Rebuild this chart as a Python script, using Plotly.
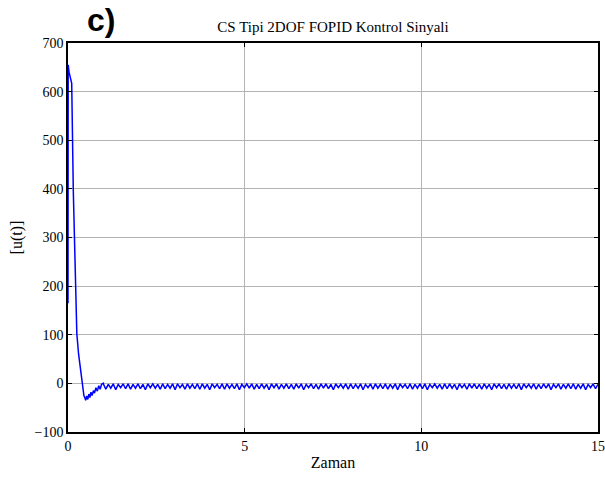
import numpy as np
import plotly.graph_objects as go

# Transient part of the control signal
t_transient = [0.0, 0.005, 0.03, 0.105, 0.15, 0.19, 0.25, 0.30, 0.36, 0.42, 0.45, 0.48, 0.50, 0.53, 0.56,
               0.59, 0.62, 0.65, 0.68, 0.72, 0.75, 0.79, 0.83, 0.87, 0.91, 0.95, 1.0]
u_transient = [165, 655, 640, 617, 396, 293, 102, 60, 26, -15, -25, -30, -35, -26, -33,
               -22, -29, -18, -25, -15, -20, -9, -16, -5, -12, -2, 0]

# Steady-state ripple (tooth tops and bottoms), t from 1.0 to 15, ~0.14 period
ripple_top = [-1, -2, -1, -2, -1, -1, -2, -1, -2, -1, -1, -2, -1, -2, -1, -1, -2, -1, -2, -1,
              -1, -2, -1, -2, -1, -1, -2, -1, -2, -1, -1, -2, -1, -2, -1, -1, -2, -1, -2, -1,
              -1, -2, -1, -2, -1, -1, -2, -1, -2, -1, -1, -2, -1, -2, -1, -1, -2, -1, -2, -1,
              -1, -2, -1, -2, -1, -1, -2, -1, -2, -1, -1, -2, -1, -2, -1, -1, -2, -1, -2, -1,
              -1, -2, -1, -2, -1, -1, -2, -1, -2, -1, -1, -2, -1, -2, -1, -1, -2, -1, -2, -1]
ripple_bottom = [-12, -10, -13, -9, -11, -12, -10, -11, -13, -9, -10, -12, -11, -10, -13, -9, -12, -10, -11, -12,
                 -10, -13, -9, -11, -12, -10, -11, -13, -9, -10, -12, -11, -10, -13, -9, -12, -10, -11, -12, -10,
                 -13, -9, -11, -12, -10, -11, -13, -9, -10, -12, -11, -10, -13, -9, -12, -10, -11, -12, -10, -13,
                 -9, -11, -12, -10, -11, -13, -9, -10, -12, -11, -10, -13, -9, -12, -10, -11, -12, -10, -13, -9,
                 -11, -12, -10, -11, -13, -9, -10, -12, -11, -10, -13, -9, -12, -10, -11, -12, -10, -13, -9, -11]

ripple_start = 1.0
ripple_period = 0.14

x_ticks = [0, 5, 10, 15]
y_ticks = [-100, 0, 100, 200, 300, 400, 500, 600, 700]

t_ss, u_ss = [], []
for i, (top, bot) in enumerate(zip(ripple_top, ripple_bottom)):
    t0 = ripple_start + i * ripple_period
    t_ss += [t0, t0 + ripple_period / 2]
    u_ss += [top, bot]
t_ss.append(15.0)
u_ss.append(-2)

t_all = list(t_transient) + t_ss
u_all = list(u_transient) + u_ss

fig = go.Figure()
fig.add_trace(go.Scatter(x=t_all, y=u_all, mode="lines",
                         line=dict(color="#0000ff", width=1.5), showlegend=False))

font_serif = "Liberation Serif, DejaVu Serif, serif"
axis_common = dict(showline=True, linecolor="black", linewidth=1.5, mirror="ticks",
                   ticks="inside", ticklen=4, tickcolor="black", automargin=False,
                   showgrid=True, gridcolor="#b4b4b4", gridwidth=1, zeroline=False,
                   tickfont=dict(family=font_serif, size=14, color="black"))

fig.update_layout(
    width=605, height=477,
    margin=dict(l=68, r=7, t=43, b=45, autoexpand=False),
    paper_bgcolor="white", plot_bgcolor="white",
    title=dict(text="CS Tipi 2DOF FOPID Kontrol Sinyali", x=0.5, xref="paper", xanchor="center",
               y=0.943, yref="container", yanchor="middle", automargin=False,
               font=dict(family=font_serif, size=15, color="black")),
    xaxis=dict(range=[0, 15], tickvals=x_ticks,
               title=dict(text="Zaman", font=dict(family=font_serif, size=16, color="black"), standoff=4),
               **axis_common),
    yaxis=dict(range=[-100, 700], tickvals=y_ticks,
               title=dict(text="[u(t)]", font=dict(family=font_serif, size=16, color="black"), standoff=8),
               **axis_common),
    annotations=[dict(text="<b>c)</b>", xref="paper", yref="paper", x=0.062, y=1.058,
                      xanchor="center", yanchor="middle", showarrow=False,
                      font=dict(family="Liberation Sans, Arial, sans-serif", size=32, color="black"))],
)

fig.write_html("out.html", config={"displayModeBar": False},
               post_script="document.body.style.margin='0';document.body.style.padding='0';")
